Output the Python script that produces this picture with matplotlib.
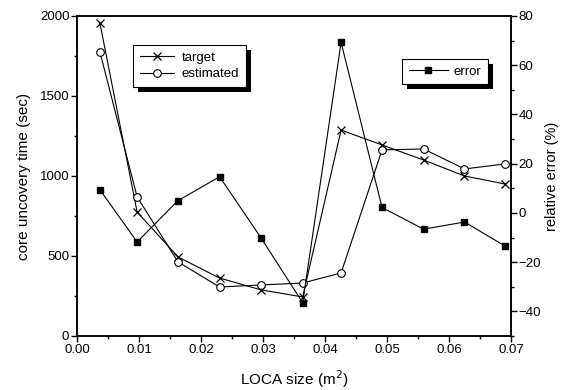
import numpy as np
import matplotlib.pyplot as plt
from matplotlib.ticker import MultipleLocator
from matplotlib.patches import Rectangle

plt.rcParams['font.family'] = ['Liberation Sans', 'DejaVu Sans']

# LOCA size (m^2)
loca = [0.0037, 0.0097, 0.0163, 0.0230, 0.0297, 0.0364, 0.0426, 0.0492, 0.0559, 0.0625, 0.0690]
# core uncovery time (sec)
target = [1955, 775, 494, 362, 288, 244, 1287, 1194, 1100, 1000, 950]
estimated = [1775, 869, 463, 306, 319, 331, 394, 1163, 1169, 1044, 1075]
# relative error (%)
error = [9.4, -11.8, 5.0, 14.7, -10.2, -36.5, 69.3, 2.2, -6.6, -3.7, -13.4]

fig = plt.figure(figsize=(5.64, 3.9), dpi=100)
ax = fig.add_axes([0.1365, 0.1385, 0.7695, 0.8205])
ax2 = ax.twinx()

lw = 0.8
ax.plot(loca, target, '-', color='black', lw=lw, marker='x', ms=5.5, mew=0.9, label='target')
ax.plot(loca, estimated, '-', color='black', lw=lw, marker='o', ms=5.5, mfc='white',
        mec='black', mew=0.8, label='estimated')
ax2.plot(loca, error, '-', color='black', lw=lw, marker='s', ms=4.5, mfc='black',
         mec='black', label='error')

ax.set_xlim(0, 0.07)
ax.set_ylim(0, 2000)
ax2.set_ylim(-50, 80)

ax.xaxis.set_major_locator(MultipleLocator(0.01))
ax.xaxis.set_minor_locator(MultipleLocator(0.005))
ax.yaxis.set_major_locator(MultipleLocator(500))
ax.yaxis.set_minor_locator(MultipleLocator(250))
ax2.yaxis.set_major_locator(MultipleLocator(20))
ax2.yaxis.set_minor_locator(MultipleLocator(10))
ax.xaxis.set_major_formatter(plt.FormatStrFormatter('%.2f'))

for a in (ax, ax2):
    a.tick_params(which='major', direction='out', length=4, width=1, labelsize=9.5, pad=1.5)
    a.tick_params(which='minor', direction='out', length=2.5, width=1)
    for s in a.spines.values():
        s.set_linewidth(1.1)

ax.set_xlabel('LOCA size (m$^2$)', fontsize=11, labelpad=9)
ax.set_ylabel('core uncovery time (sec)', fontsize=11, labelpad=6)
ax2.set_ylabel('relative error (%)', fontsize=10.5, labelpad=3)

leg_kw = dict(loc='upper left', borderaxespad=0, fancybox=False, fontsize=9.5,
              framealpha=1, borderpad=0.5)
leg1 = ax2.legend(*ax.get_legend_handles_labels(), bbox_to_anchor=(0.129, 0.909),
                  handlelength=2.6, handletextpad=0.6, labelspacing=0.3, **leg_kw)
ax2.add_artist(leg1)
leg2 = ax2.legend(bbox_to_anchor=(0.749, 0.866), handlelength=3.0,
                  handletextpad=0.4, **leg_kw)

# solid offset shadows behind the legend boxes
fig.canvas.draw()
for leg in (leg1, leg2):
    leg.get_frame().set_edgecolor('black')
    leg.get_frame().set_linewidth(0.8)
    bb = leg.get_window_extent()
    ax2.add_patch(Rectangle((bb.x0 + 5, bb.y0 - 5), bb.width, bb.height, transform=None,
                            facecolor='black', edgecolor='none', zorder=4.9, clip_on=False))

fig.savefig('out.png', dpi=100)
